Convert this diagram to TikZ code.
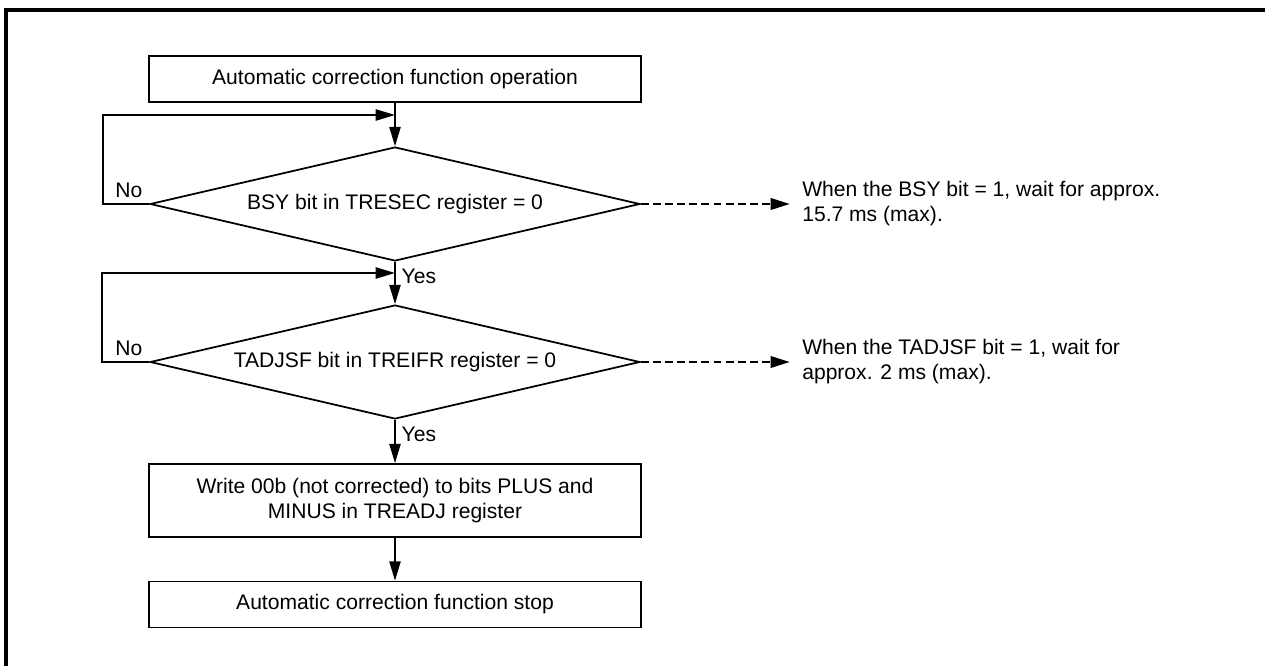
\documentclass[tikz,border=0pt]{standalone}
\usepackage{fontspec}
\setmainfont{Liberation Sans}
\usetikzlibrary{shapes.geometric,arrows.meta}
\tikzset{
  box/.style={draw,line width=1pt,minimum width=9.84cm,minimum height=0.92cm,align=center},
  dec/.style={draw,diamond,aspect=4.3,line width=1pt,minimum width=9.8cm,minimum height=2.28cm,inner sep=0pt},
  arr/.style={line width=1pt,-{Triangle[length=11pt,width=6.4pt]}},
  darr/.style={arr,line width=1.6pt,dash pattern=on 4.5pt off 2.4pt},
  note/.style={anchor=west,align=left,inner xsep=6.8pt,inner ysep=0pt}
}
\begin{document}
\begin{tikzpicture}[x=0.02cm,y=-0.02cm,font=\fontsize{12}{14.2}\selectfont]
\useasboundingbox (0,0) rectangle (1265,666);
\draw[line width=2.2pt] (6,690)--(6,10)--(1290,10);
\node[box] (start) at (395,79) {Automatic correction function operation};
\node[dec] (bsy) at (395,204) {BSY bit in TRESEC register = 0};
\node[dec] (tadj) at (395,362) {TADJSF bit in TREIFR register = 0};
\node[box,minimum height=1.46cm] (write) at (395,500.5) {Write 00b (not corrected) to bits PLUS and\\MINUS in TREADJ register};
\node[box] (stop) at (395,604.5) {Automatic correction function stop};
\node[note] (bsynote) at (790,204) {When the BSY bit = 1, wait for approx.\\15.7 ms (max).};
\node[note] (tadjnote) at (790,362) {When the TADJSF bit = 1, wait for\\approx. 2 ms (max).};
\coordinate (j1) at (395,115);
\coordinate (j2) at (395,273);
% main flow
\draw[arr] (start) -- (bsy);
\draw[arr] (bsy) -- (tadj) node[pos=0,below right]{Yes};
\draw[arr] (tadj) -- (write) node[pos=0,below right]{Yes};
\draw[arr] (write) -- (stop);
% loops back
\draw[arr] (bsy.west) node[above left]{No} -- ++(-46,0) |- (j1);
\draw[arr] (tadj.west) node[above left]{No} -- ++(-47,0) |- (j2);
% waiting notes
\draw[darr] (bsy.east) -- (bsynote.west);
\draw[darr] (tadj.east) -- (tadjnote.west);
\end{tikzpicture}
\end{document}
